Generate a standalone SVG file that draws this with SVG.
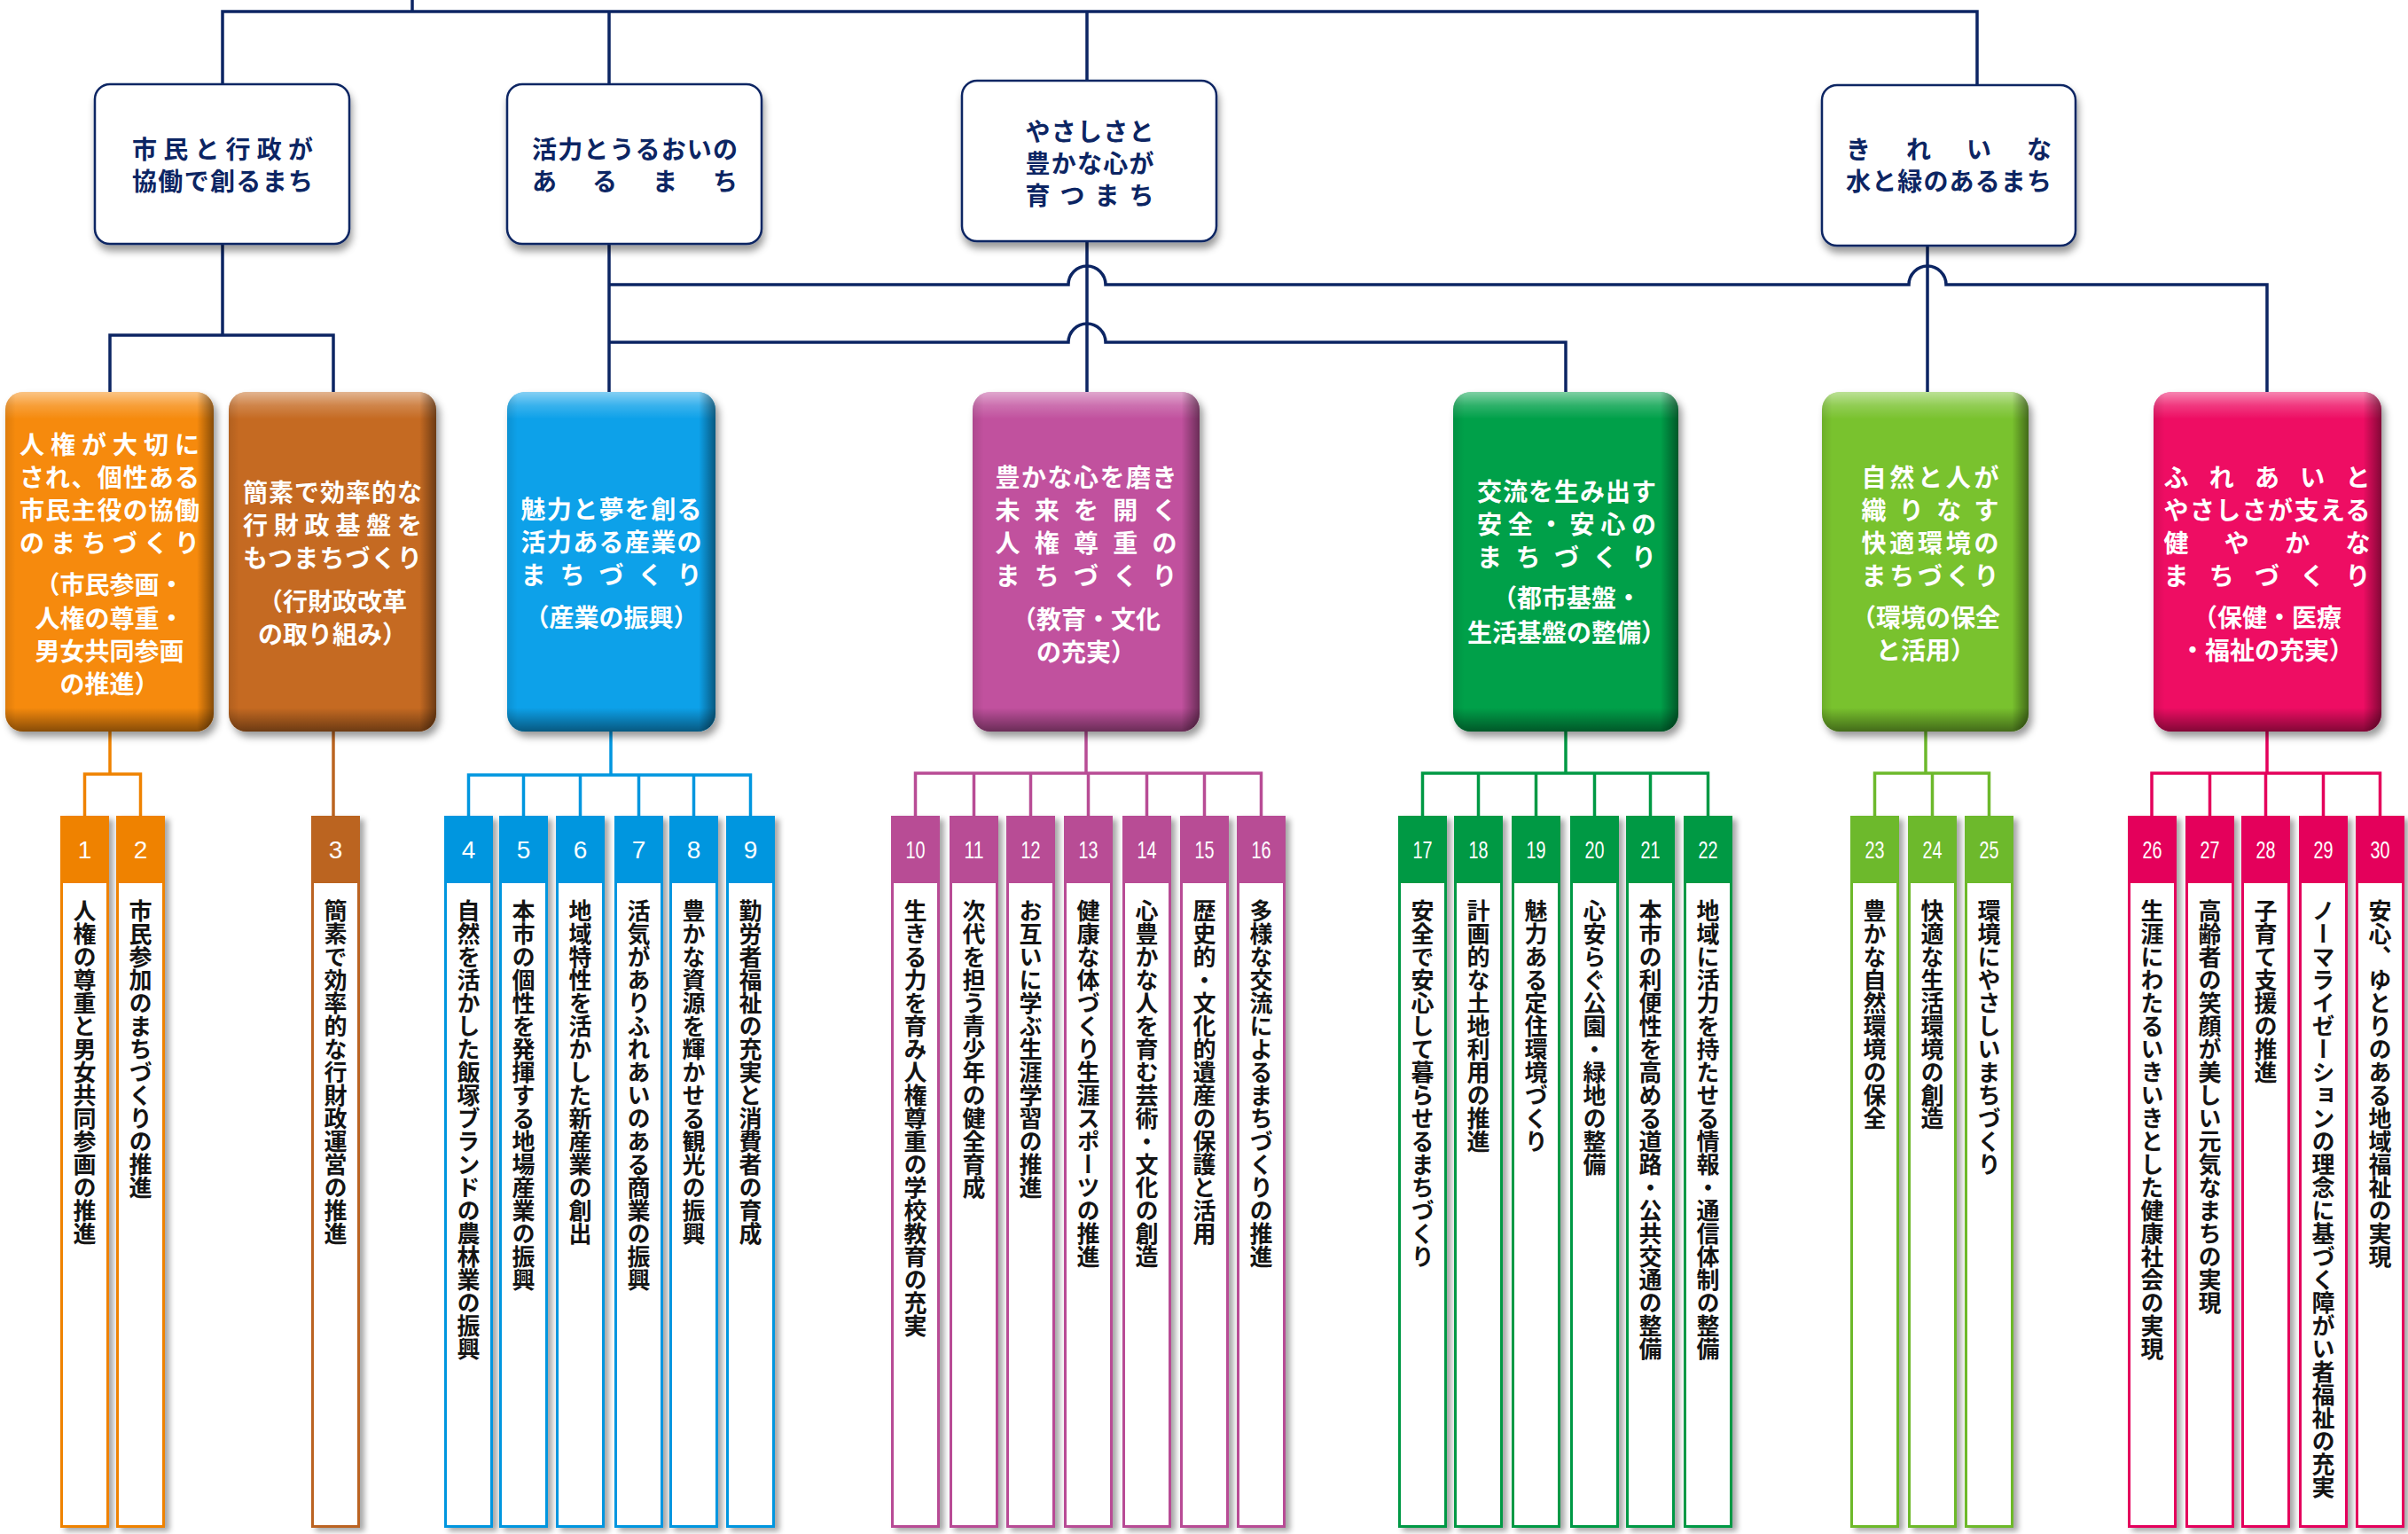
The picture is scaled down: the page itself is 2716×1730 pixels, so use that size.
<svg xmlns="http://www.w3.org/2000/svg" width="2716" height="1730" viewBox="0 0 2716 1730">
<style>
.conn{fill:none;stroke:#0c2563;stroke-width:3.5}
.lc{fill:none;stroke-width:3.5}
.b1{fill:#fff;stroke:#0c2563;stroke-width:2.5}
.t1{font-family:"Noto Sans CJK JP",sans-serif;font-size:28px;font-weight:700;fill:#0c2563;text-anchor:middle;dominant-baseline:central}
.t2{font-family:"Noto Sans CJK JP",sans-serif;font-size:28px;font-weight:700;fill:#fff;text-anchor:middle;dominant-baseline:central}
.lb{fill:#fff;stroke-width:3}
.num{font-family:"Liberation Sans",sans-serif;font-size:28px;fill:#fff;text-anchor:middle;dominant-baseline:central}
.lt{font-family:"Noto Sans CJK JP",sans-serif;font-size:26px;font-weight:700;fill:#141414;writing-mode:vertical-rl}
</style>
<defs>
<filter id="sh1" x="-10%" y="-10%" width="125%" height="130%"><feDropShadow dx="2" dy="7" stdDeviation="4" flood-color="#000" flood-opacity="0.4"/></filter>
<filter id="sh2" x="-10%" y="-10%" width="130%" height="125%"><feDropShadow dx="4" dy="6" stdDeviation="4" flood-color="#000" flood-opacity="0.4"/></filter>
<filter id="sh3" x="-20%" y="-5%" width="160%" height="110%"><feDropShadow dx="5" dy="4" stdDeviation="3" flood-color="#000" flood-opacity="0.35"/></filter>
<linearGradient id="gv" x1="0" y1="0" x2="0" y2="1">
<stop offset="0" stop-color="#fff" stop-opacity="0.5"/>
<stop offset="0.04" stop-color="#fff" stop-opacity="0.18"/>
<stop offset="0.08" stop-color="#fff" stop-opacity="0"/>
<stop offset="0.93" stop-color="#000" stop-opacity="0"/>
<stop offset="1" stop-color="#000" stop-opacity="0.45"/>
</linearGradient>
<linearGradient id="gh" x1="0" y1="0" x2="1" y2="0">
<stop offset="0" stop-color="#000" stop-opacity="0.1"/>
<stop offset="0.05" stop-color="#000" stop-opacity="0"/>
<stop offset="0.92" stop-color="#000" stop-opacity="0"/>
<stop offset="1" stop-color="#000" stop-opacity="0.45"/>
</linearGradient>
</defs>

<g id="connectors">
<path class="conn" d="M465 0V13M251 95V13H2230V96M687 13V95M1226 13V91M251 275V378M124 442V378H376V442M687 275V442M1226 272V442M2174 277V442"/>
<path class="conn" d="M687 321H1205A21 21 0 0 1 1247 321H2153A21 21 0 0 1 2195 321H2557V442"/>
<path class="conn" d="M687 386H1205A21 21 0 0 1 1247 386H1766V442"/>
<path class="lc" stroke="#ef8200" d="M124 825V873M95.5 920V873H158.5V920"/>
<path class="lc" stroke="#bb6420" d="M376 825V920"/>
<path class="lc" stroke="#0096df" d="M689 825V874M528.5 920V874H846.5V920M590.5 874V920M654.5 874V920M720.5 874V920M782.5 874V920"/>
<path class="lc" stroke="#b84c95" d="M1225 825V872M1032.5 920V872H1422.5V920M1098.5 872V920M1162.5 872V920M1227.5 872V920M1293.5 872V920M1358.5 872V920"/>
<path class="lc" stroke="#009944" d="M1766 825V872M1604.5 920V872H1926.5V920M1667.5 872V920M1732.5 872V920M1798.5 872V920M1861.5 872V920"/>
<path class="lc" stroke="#6db92c" d="M2172 825V872M2114.5 920V872H2243.5V920M2179.5 872V920"/>
<path class="lc" stroke="#e4005b" d="M2557 825V872M2427 920V872H2684.5V920M2492.5 872V920M2555.5 872V920M2620.5 872V920"/>
</g>

<g id="vision1">
<rect class="b1" x="107" y="95" width="287" height="180" rx="17" filter="url(#sh1)"/>
<text class="t1" x="251" y="167" textLength="204" lengthAdjust="spacing">市民と行政が</text>
<text class="t1" x="251" y="203" textLength="204" lengthAdjust="spacing">協働で創るまち</text>
</g>
<g id="vision2">
<rect class="b1" x="572" y="95" width="287" height="180" rx="17" filter="url(#sh1)"/>
<text class="t1" x="716" y="167" textLength="232" lengthAdjust="spacing">活力とうるおいの</text>
<text class="t1" x="716" y="203" textLength="232" lengthAdjust="spacing">あるまち</text>
</g>
<g id="vision3">
<rect class="b1" x="1085" y="91" width="287" height="181" rx="17" filter="url(#sh1)"/>
<text class="t1" x="1229" y="147" textLength="145" lengthAdjust="spacing">やさしさと</text>
<text class="t1" x="1229" y="183" textLength="145" lengthAdjust="spacing">豊かな心が</text>
<text class="t1" x="1229" y="219" textLength="145" lengthAdjust="spacing">育つまち</text>
</g>
<g id="vision4">
<rect class="b1" x="2055" y="96" width="286" height="181" rx="17" filter="url(#sh1)"/>
<text class="t1" x="2198" y="167" textLength="232" lengthAdjust="spacing">きれいな</text>
<text class="t1" x="2198" y="203" textLength="232" lengthAdjust="spacing">水と緑のあるまち</text>
</g>

<g id="goal-orange">
<rect x="6" y="442" width="235" height="383" rx="20" fill="#f68a0e" filter="url(#sh2)"/>
<rect x="6" y="442" width="235" height="383" rx="20" fill="url(#gv)"/>
<rect x="6" y="442" width="235" height="383" rx="20" fill="url(#gh)"/>
<text class="t2" x="123.5" y="500" textLength="203" lengthAdjust="spacing">人権が大切に</text>
<text class="t2" x="123.5" y="537" textLength="203" lengthAdjust="spacing">され、個性ある</text>
<text class="t2" x="123.5" y="574" textLength="203" lengthAdjust="spacing">市民主役の協働</text>
<text class="t2" x="123.5" y="611" textLength="203" lengthAdjust="spacing">のまちづくり</text>
<text class="t2" x="123.5" y="658">（市民参画・</text>
<text class="t2" x="123.5" y="696">人権の尊重・</text>
<text class="t2" x="123.5" y="733">男女共同参画</text>
<text class="t2" x="123.5" y="770">の推進）</text>
</g>
<g id="goal-brown">
<rect x="258" y="442" width="234" height="383" rx="20" fill="#c56b22" filter="url(#sh2)"/>
<rect x="258" y="442" width="234" height="383" rx="20" fill="url(#gv)"/>
<rect x="258" y="442" width="234" height="383" rx="20" fill="url(#gh)"/>
<text class="t2" x="375" y="554" textLength="202" lengthAdjust="spacing">簡素で効率的な</text>
<text class="t2" x="375" y="591" textLength="202" lengthAdjust="spacing">行財政基盤を</text>
<text class="t2" x="375" y="628" textLength="202" lengthAdjust="spacing">もつまちづくり</text>
<text class="t2" x="375" y="677">（行財政改革</text>
<text class="t2" x="375" y="714">の取り組み）</text>
</g>
<g id="goal-blue">
<rect x="572" y="442" width="235" height="383" rx="20" fill="#08a1e9" filter="url(#sh2)"/>
<rect x="572" y="442" width="235" height="383" rx="20" fill="url(#gv)"/>
<rect x="572" y="442" width="235" height="383" rx="20" fill="url(#gh)"/>
<text class="t2" x="689.5" y="573" textLength="204" lengthAdjust="spacing">魅力と夢を創る</text>
<text class="t2" x="689.5" y="610" textLength="204" lengthAdjust="spacing">活力ある産業の</text>
<text class="t2" x="689.5" y="647" textLength="204" lengthAdjust="spacing">まちづくり</text>
<text class="t2" x="689.5" y="695">（産業の振興）</text>
</g>
<g id="goal-pink">
<rect x="1097" y="442" width="256" height="383" rx="20" fill="#c1519e" filter="url(#sh2)"/>
<rect x="1097" y="442" width="256" height="383" rx="20" fill="url(#gv)"/>
<rect x="1097" y="442" width="256" height="383" rx="20" fill="url(#gh)"/>
<text class="t2" x="1225" y="537" textLength="205" lengthAdjust="spacing">豊かな心を磨き</text>
<text class="t2" x="1225" y="574" textLength="205" lengthAdjust="spacing">未来を開く</text>
<text class="t2" x="1225" y="611" textLength="205" lengthAdjust="spacing">人権尊重の</text>
<text class="t2" x="1225" y="648" textLength="205" lengthAdjust="spacing">まちづくり</text>
<text class="t2" x="1225" y="697">（教育・文化</text>
<text class="t2" x="1225" y="734">の充実）</text>
</g>
<g id="goal-green">
<rect x="1639" y="442" width="254" height="383" rx="20" fill="#06a048" filter="url(#sh2)"/>
<rect x="1639" y="442" width="254" height="383" rx="20" fill="url(#gv)"/>
<rect x="1639" y="442" width="254" height="383" rx="20" fill="url(#gh)"/>
<text class="t2" x="1767" y="553" textLength="202" lengthAdjust="spacing">交流を生み出す</text>
<text class="t2" x="1767" y="590" textLength="202" lengthAdjust="spacing">安全・安心の</text>
<text class="t2" x="1767" y="627" textLength="202" lengthAdjust="spacing">まちづくり</text>
<text class="t2" x="1767" y="673">（都市基盤・</text>
<text class="t2" x="1767" y="712">生活基盤の整備）</text>
</g>
<g id="goal-lime">
<rect x="2055" y="442" width="233" height="383" rx="20" fill="#79c22e" filter="url(#sh2)"/>
<rect x="2055" y="442" width="233" height="383" rx="20" fill="url(#gv)"/>
<rect x="2055" y="442" width="233" height="383" rx="20" fill="url(#gh)"/>
<text class="t2" x="2177" y="537" textLength="155" lengthAdjust="spacing">自然と人が</text>
<text class="t2" x="2177" y="574" textLength="155" lengthAdjust="spacing">織りなす</text>
<text class="t2" x="2177" y="611" textLength="155" lengthAdjust="spacing">快適環境の</text>
<text class="t2" x="2177" y="648" textLength="155" lengthAdjust="spacing">まちづくり</text>
<text class="t2" x="2172" y="695">（環境の保全</text>
<text class="t2" x="2172" y="732">と活用）</text>
</g>
<g id="goal-red">
<rect x="2429" y="442" width="257" height="383" rx="20" fill="#ee0764" filter="url(#sh2)"/>
<rect x="2429" y="442" width="257" height="383" rx="20" fill="url(#gv)"/>
<rect x="2429" y="442" width="257" height="383" rx="20" fill="url(#gh)"/>
<text class="t2" x="2557" y="537" textLength="233" lengthAdjust="spacing">ふれあいと</text>
<text class="t2" x="2557" y="574" textLength="233" lengthAdjust="spacing">やさしさが支える</text>
<text class="t2" x="2557" y="611" textLength="233" lengthAdjust="spacing">健やかな</text>
<text class="t2" x="2557" y="648" textLength="233" lengthAdjust="spacing">まちづくり</text>
<text class="t2" x="2557" y="695">（保健・医療</text>
<text class="t2" x="2557" y="732">・福祉の充実）</text>
</g>

<g id="leaf-1"><rect class="lb" x="69.5" y="921.5" width="52" height="800" stroke="#ef8200" filter="url(#sh3)"/><rect x="68" y="920" width="55" height="76" fill="#ef8200"/><text class="num" x="95.5" y="958">1</text><text class="lt" x="95.5" y="1014">人権の尊重と男女共同参画の推進</text></g>
<g id="leaf-2"><rect class="lb" x="132.5" y="921.5" width="52" height="800" stroke="#ef8200" filter="url(#sh3)"/><rect x="131" y="920" width="55" height="76" fill="#ef8200"/><text class="num" x="158.5" y="958">2</text><text class="lt" x="158.5" y="1014">市民参加のまちづくりの推進</text></g>
<g id="leaf-3"><rect class="lb" x="352.5" y="921.5" width="52" height="800" stroke="#bb6420" filter="url(#sh3)"/><rect x="351" y="920" width="55" height="76" fill="#bb6420"/><text class="num" x="378.5" y="958">3</text><text class="lt" x="378.5" y="1014">簡素で効率的な行財政運営の推進</text></g>
<g id="leaf-4"><rect class="lb" x="502.5" y="921.5" width="52" height="800" stroke="#0096df" filter="url(#sh3)"/><rect x="501" y="920" width="55" height="76" fill="#0096df"/><text class="num" x="528.5" y="958">4</text><text class="lt" x="528.5" y="1014">自然を活かした飯塚ブランドの農林業の振興</text></g>
<g id="leaf-5"><rect class="lb" x="564.5" y="921.5" width="52" height="800" stroke="#0096df" filter="url(#sh3)"/><rect x="563" y="920" width="55" height="76" fill="#0096df"/><text class="num" x="590.5" y="958">5</text><text class="lt" x="590.5" y="1014">本市の個性を発揮する地場産業の振興</text></g>
<g id="leaf-6"><rect class="lb" x="628.5" y="921.5" width="52" height="800" stroke="#0096df" filter="url(#sh3)"/><rect x="627" y="920" width="55" height="76" fill="#0096df"/><text class="num" x="654.5" y="958">6</text><text class="lt" x="654.5" y="1014">地域特性を活かした新産業の創出</text></g>
<g id="leaf-7"><rect class="lb" x="694.5" y="921.5" width="52" height="800" stroke="#0096df" filter="url(#sh3)"/><rect x="693" y="920" width="55" height="76" fill="#0096df"/><text class="num" x="720.5" y="958">7</text><text class="lt" x="720.5" y="1014">活気がありふれあいのある商業の振興</text></g>
<g id="leaf-8"><rect class="lb" x="756.5" y="921.5" width="52" height="800" stroke="#0096df" filter="url(#sh3)"/><rect x="755" y="920" width="55" height="76" fill="#0096df"/><text class="num" x="782.5" y="958">8</text><text class="lt" x="782.5" y="1014">豊かな資源を輝かせる観光の振興</text></g>
<g id="leaf-9"><rect class="lb" x="820.5" y="921.5" width="52" height="800" stroke="#0096df" filter="url(#sh3)"/><rect x="819" y="920" width="55" height="76" fill="#0096df"/><text class="num" x="846.5" y="958">9</text><text class="lt" x="846.5" y="1014">勤労者福祉の充実と消費者の育成</text></g>
<g id="leaf-10"><rect class="lb" x="1006.5" y="921.5" width="52" height="800" stroke="#b84c95" filter="url(#sh3)"/><rect x="1005" y="920" width="55" height="76" fill="#b84c95"/><text class="num" x="1032.5" y="958" textLength="22" lengthAdjust="spacingAndGlyphs">10</text><text class="lt" x="1032.5" y="1014">生きる力を育み人権尊重の学校教育の充実</text></g>
<g id="leaf-11"><rect class="lb" x="1072.5" y="921.5" width="52" height="800" stroke="#b84c95" filter="url(#sh3)"/><rect x="1071" y="920" width="55" height="76" fill="#b84c95"/><text class="num" x="1098.5" y="958" textLength="22" lengthAdjust="spacingAndGlyphs">11</text><text class="lt" x="1098.5" y="1014">次代を担う青少年の健全育成</text></g>
<g id="leaf-12"><rect class="lb" x="1136.5" y="921.5" width="52" height="800" stroke="#b84c95" filter="url(#sh3)"/><rect x="1135" y="920" width="55" height="76" fill="#b84c95"/><text class="num" x="1162.5" y="958" textLength="22" lengthAdjust="spacingAndGlyphs">12</text><text class="lt" x="1162.5" y="1014">お互いに学ぶ生涯学習の推進</text></g>
<g id="leaf-13"><rect class="lb" x="1201.5" y="921.5" width="52" height="800" stroke="#b84c95" filter="url(#sh3)"/><rect x="1200" y="920" width="55" height="76" fill="#b84c95"/><text class="num" x="1227.5" y="958" textLength="22" lengthAdjust="spacingAndGlyphs">13</text><text class="lt" x="1227.5" y="1014">健康な体づくり生涯スポーツの推進</text></g>
<g id="leaf-14"><rect class="lb" x="1267.5" y="921.5" width="52" height="800" stroke="#b84c95" filter="url(#sh3)"/><rect x="1266" y="920" width="55" height="76" fill="#b84c95"/><text class="num" x="1293.5" y="958" textLength="22" lengthAdjust="spacingAndGlyphs">14</text><text class="lt" x="1293.5" y="1014">心豊かな人を育む芸術・文化の創造</text></g>
<g id="leaf-15"><rect class="lb" x="1332.5" y="921.5" width="52" height="800" stroke="#b84c95" filter="url(#sh3)"/><rect x="1331" y="920" width="55" height="76" fill="#b84c95"/><text class="num" x="1358.5" y="958" textLength="22" lengthAdjust="spacingAndGlyphs">15</text><text class="lt" x="1358.5" y="1014">歴史的・文化的遺産の保護と活用</text></g>
<g id="leaf-16"><rect class="lb" x="1396.5" y="921.5" width="52" height="800" stroke="#b84c95" filter="url(#sh3)"/><rect x="1395" y="920" width="55" height="76" fill="#b84c95"/><text class="num" x="1422.5" y="958" textLength="22" lengthAdjust="spacingAndGlyphs">16</text><text class="lt" x="1422.5" y="1014">多様な交流によるまちづくりの推進</text></g>
<g id="leaf-17"><rect class="lb" x="1578.5" y="921.5" width="52" height="800" stroke="#009944" filter="url(#sh3)"/><rect x="1577" y="920" width="55" height="76" fill="#009944"/><text class="num" x="1604.5" y="958" textLength="22" lengthAdjust="spacingAndGlyphs">17</text><text class="lt" x="1604.5" y="1014">安全で安心して暮らせるまちづくり</text></g>
<g id="leaf-18"><rect class="lb" x="1641.5" y="921.5" width="52" height="800" stroke="#009944" filter="url(#sh3)"/><rect x="1640" y="920" width="55" height="76" fill="#009944"/><text class="num" x="1667.5" y="958" textLength="22" lengthAdjust="spacingAndGlyphs">18</text><text class="lt" x="1667.5" y="1014">計画的な土地利用の推進</text></g>
<g id="leaf-19"><rect class="lb" x="1706.5" y="921.5" width="52" height="800" stroke="#009944" filter="url(#sh3)"/><rect x="1705" y="920" width="55" height="76" fill="#009944"/><text class="num" x="1732.5" y="958" textLength="22" lengthAdjust="spacingAndGlyphs">19</text><text class="lt" x="1732.5" y="1014">魅力ある定住環境づくり</text></g>
<g id="leaf-20"><rect class="lb" x="1772.5" y="921.5" width="52" height="800" stroke="#009944" filter="url(#sh3)"/><rect x="1771" y="920" width="55" height="76" fill="#009944"/><text class="num" x="1798.5" y="958" textLength="22" lengthAdjust="spacingAndGlyphs">20</text><text class="lt" x="1798.5" y="1014">心安らぐ公園・緑地の整備</text></g>
<g id="leaf-21"><rect class="lb" x="1835.5" y="921.5" width="52" height="800" stroke="#009944" filter="url(#sh3)"/><rect x="1834" y="920" width="55" height="76" fill="#009944"/><text class="num" x="1861.5" y="958" textLength="22" lengthAdjust="spacingAndGlyphs">21</text><text class="lt" x="1861.5" y="1014">本市の利便性を高める道路・公共交通の整備</text></g>
<g id="leaf-22"><rect class="lb" x="1900.5" y="921.5" width="52" height="800" stroke="#009944" filter="url(#sh3)"/><rect x="1899" y="920" width="55" height="76" fill="#009944"/><text class="num" x="1926.5" y="958" textLength="22" lengthAdjust="spacingAndGlyphs">22</text><text class="lt" x="1926.5" y="1014">地域に活力を持たせる情報・通信体制の整備</text></g>
<g id="leaf-23"><rect class="lb" x="2088.5" y="921.5" width="52" height="800" stroke="#6db92c" filter="url(#sh3)"/><rect x="2087" y="920" width="55" height="76" fill="#6db92c"/><text class="num" x="2114.5" y="958" textLength="22" lengthAdjust="spacingAndGlyphs">23</text><text class="lt" x="2114.5" y="1014">豊かな自然環境の保全</text></g>
<g id="leaf-24"><rect class="lb" x="2153.5" y="921.5" width="52" height="800" stroke="#6db92c" filter="url(#sh3)"/><rect x="2152" y="920" width="55" height="76" fill="#6db92c"/><text class="num" x="2179.5" y="958" textLength="22" lengthAdjust="spacingAndGlyphs">24</text><text class="lt" x="2179.5" y="1014">快適な生活環境の創造</text></g>
<g id="leaf-25"><rect class="lb" x="2217.5" y="921.5" width="52" height="800" stroke="#6db92c" filter="url(#sh3)"/><rect x="2216" y="920" width="55" height="76" fill="#6db92c"/><text class="num" x="2243.5" y="958" textLength="22" lengthAdjust="spacingAndGlyphs">25</text><text class="lt" x="2243.5" y="1014">環境にやさしいまちづくり</text></g>
<g id="leaf-26"><rect class="lb" x="2401.5" y="921.5" width="52" height="800" stroke="#e4005b" filter="url(#sh3)"/><rect x="2400" y="920" width="55" height="76" fill="#e4005b"/><text class="num" x="2427.5" y="958" textLength="22" lengthAdjust="spacingAndGlyphs">26</text><text class="lt" x="2427.5" y="1014">生涯にわたるいきいきとした健康社会の実現</text></g>
<g id="leaf-27"><rect class="lb" x="2466.5" y="921.5" width="52" height="800" stroke="#e4005b" filter="url(#sh3)"/><rect x="2465" y="920" width="55" height="76" fill="#e4005b"/><text class="num" x="2492.5" y="958" textLength="22" lengthAdjust="spacingAndGlyphs">27</text><text class="lt" x="2492.5" y="1014">高齢者の笑顔が美しい元気なまちの実現</text></g>
<g id="leaf-28"><rect class="lb" x="2529.5" y="921.5" width="52" height="800" stroke="#e4005b" filter="url(#sh3)"/><rect x="2528" y="920" width="55" height="76" fill="#e4005b"/><text class="num" x="2555.5" y="958" textLength="22" lengthAdjust="spacingAndGlyphs">28</text><text class="lt" x="2555.5" y="1014">子育て支援の推進</text></g>
<g id="leaf-29"><rect class="lb" x="2594.5" y="921.5" width="52" height="800" stroke="#e4005b" filter="url(#sh3)"/><rect x="2593" y="920" width="55" height="76" fill="#e4005b"/><text class="num" x="2620.5" y="958" textLength="22" lengthAdjust="spacingAndGlyphs">29</text><text class="lt" x="2620.5" y="1014">ノーマライゼーションの理念に基づく障がい者福祉の充実</text></g>
<g id="leaf-30"><rect class="lb" x="2658.5" y="921.5" width="52" height="800" stroke="#e4005b" filter="url(#sh3)"/><rect x="2657" y="920" width="55" height="76" fill="#e4005b"/><text class="num" x="2684.5" y="958" textLength="22" lengthAdjust="spacingAndGlyphs">30</text><text class="lt" x="2684.5" y="1014">安心、ゆとりのある地域福祉の実現</text></g>
</svg>
